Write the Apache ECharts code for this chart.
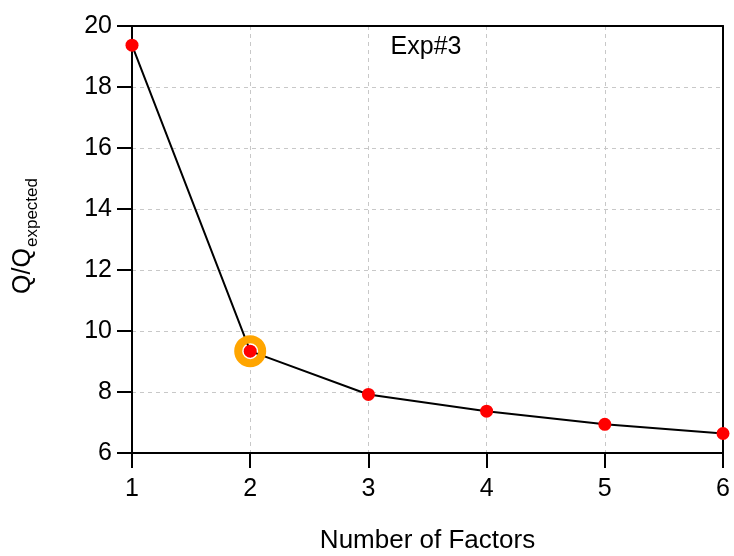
<!DOCTYPE html>
<html>
<head>
<meta charset="utf-8">
<script src="https://cdn.jsdelivr.net/npm/echarts@6/dist/echarts.min.js"></script>
<style>
html,body{margin:0;padding:0;background:#fff;}
#chart{width:734px;height:556px;}
</style>
</head>
<body>
<div id="chart"></div>
<script>
var factors = [1, 2, 3, 4, 5, 6];
var qRatio = [19.37, 9.34, 7.92, 7.37, 6.94, 6.64];
var highlighted = [[2, 9.34]];
var xTitle = 'Number of Factors';
var yMain = 'Q/Q';
var ySub = 'expected';
var expLabel = 'Exp#3';

var FONT = '"Liberation Sans", Arial, sans-serif';
var chart = echarts.init(document.getElementById('chart'), null, {renderer: 'canvas'});

var lineData = factors.map(function (f, i) { return [f, qRatio[i]]; });
var grid = {color: '#c8c8c8', type: [4, 4], width: 1};

chart.setOption({
  animation: false,
  backgroundColor: '#fff',
  grid: {left: 132, right: 11, top: 26, bottom: 103, show: false, containLabel: false, outerBoundsMode: 'none'},
  xAxis: [{
    type: 'value', min: 1, max: 6, interval: 1, position: 'bottom',
    name: xTitle, nameLocation: 'middle', nameGap: 75,
    nameTextStyle: {fontFamily: FONT, fontSize: 26, color: '#000'},
    axisLine: {show: true, onZero: false, lineStyle: {color: '#000', width: 2}},
    axisTick: {show: true, inside: false, length: 15, lineStyle: {color: '#000', width: 2}},
    axisLabel: {fontFamily: FONT, fontSize: 25, color: '#000', margin: 24},
    splitLine: {show: true, lineStyle: grid}
  }, {
    type: 'value', min: 1, max: 6, interval: 1, position: 'top',
    axisLine: {show: true, onZero: false, lineStyle: {color: '#000', width: 2}},
    axisTick: {show: false}, axisLabel: {show: false}, splitLine: {show: false}
  }],
  yAxis: [{
    type: 'value', min: 6, max: 20, interval: 2, position: 'left',
    axisLine: {show: true, onZero: false, lineStyle: {color: '#000', width: 2}},
    axisTick: {show: true, inside: false, length: 15, lineStyle: {color: '#000', width: 2}},
    axisLabel: {fontFamily: FONT, fontSize: 25, color: '#000', margin: 20},
    splitLine: {show: true, lineStyle: grid}
  }, {
    type: 'value', min: 6, max: 20, interval: 2, position: 'right',
    axisLine: {show: true, onZero: false, lineStyle: {color: '#000', width: 2}},
    axisTick: {show: false}, axisLabel: {show: false}, splitLine: {show: false}
  }],
  graphic: [
    {
      type: 'group', x: 0, y: 294, rotation: Math.PI / 2,
      children: [
        {type: 'text', x: 0, y: 23, style: {text: yMain, font: '25px ' + FONT, fill: '#000', align: 'left', verticalAlign: 'middle'}},
        {type: 'text', x: 47, y: 32, style: {text: ySub, font: '17px ' + FONT, fill: '#000', align: 'left', verticalAlign: 'middle'}}
      ]
    },
    {type: 'text', x: 426, y: 47, style: {text: expLabel, font: '25px ' + FONT, fill: '#000', align: 'center', verticalAlign: 'middle'}}
  ],
  series: [
    {
      type: 'line', data: lineData, symbol: 'circle', symbolSize: 13,
      lineStyle: {color: '#000', width: 2},
      itemStyle: {color: '#ff0000'},
      clip: false,
      z: 10
    },
    {
      type: 'scatter', data: highlighted, symbol: 'circle', symbolSize: 24,
      itemStyle: {color: 'rgba(0,0,0,0)', borderColor: '#FFA500', borderWidth: 8, opacity: 1},
      z: 11
    }
  ]
});
</script>
</body>
</html>
